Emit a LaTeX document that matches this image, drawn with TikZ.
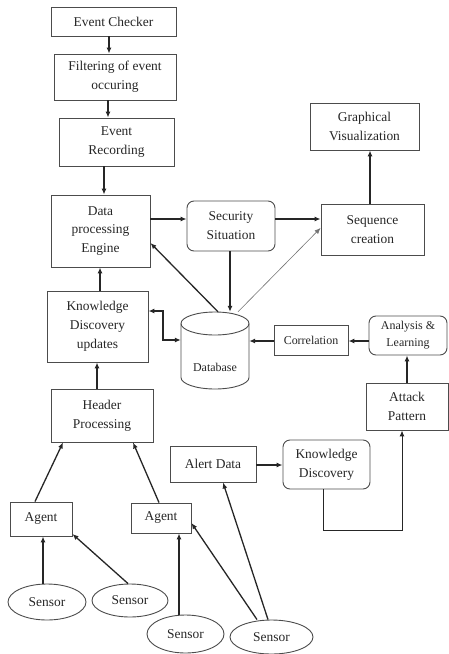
\documentclass[tikz,border=0pt]{standalone}
\usepackage{fontspec}
\setmainfont{Liberation Serif}
\usetikzlibrary{arrows.meta,shapes.geometric}
\begin{document}
\begin{tikzpicture}[x=1bp,y=-1bp,
 box/.style={draw=black!70, line width=0.9bp, align=center, inner sep=0pt, text=black!85, font=\fontsize{13.5}{19}\selectfont},
 rbox/.style={box, rounded corners=7bp},
 sm/.style={font=\fontsize{12}{17}\selectfont},
 sens/.style={box, ellipse},
 arr/.style={line width=1.3bp, black!85, -{Latex[length=6bp,width=5bp]}},
 arrb/.style={line width=1.3bp, black!85, {Latex[length=6bp,width=5bp]}-{Latex[length=6bp,width=5bp]}},
 tarr/.style={line width=1bp, black!85, -{Latex[length=6bp,width=5bp]}},
 thinarr/.style={line width=0.6bp, black!55, -{Latex[length=6bp,width=5bp]}},
 cyl/.style={draw=black!70, line width=0.9bp},
]
\useasboundingbox (0,0) rectangle (449,654);
% boxes
\node[box, minimum width=125bp, minimum height=29bp] (ec) at (113.5,21.5) {Event Checker};
\node[box, minimum width=122bp, minimum height=46bp] (filt) at (115,77) {Filtering of event\\occuring};
\node[box, minimum width=115bp, minimum height=48bp] (rec) at (116.5,142) {Event\\Recording};
\node[box, minimum width=99bp, minimum height=72bp] (dpe) at (100.5,231) {Data\\processing\\Engine};
\node[rbox, minimum width=88bp, minimum height=50bp] (ss) at (231,226) {Security\\Situation};
\node[box, minimum width=103bp, minimum height=51bp] (seq) at (372.5,229.5) {Sequence\\creation};
\node[box, minimum width=109bp, minimum height=47bp] (gv) at (364.5,126.5) {Graphical\\Visualization};
\node[box, minimum width=101bp, minimum height=71bp] (kdu) at (97.5,326.5) {Knowledge\\Discovery\\updates};
% database cylinder
\node[minimum width=68bp, minimum height=77bp, inner sep=0pt] (db) at (215,350.5) {};
\draw[cyl] (215,323.5) ellipse [x radius=34, y radius=11.5];
\draw[cyl] (181,323.5) -- (181,377.5) arc [start angle=180, end angle=0, x radius=34, y radius=11.5] -- (249,323.5);
\node[box, draw=none, sm] (dbt) at (215,367) {Database};
\node[box, sm, minimum width=74bp, minimum height=30bp] (corr) at (311,340) {Correlation};
\node[rbox, sm, minimum width=78bp, minimum height=39bp] (al) at (408,335.5) {Analysis \&\\Learning};
\node[box, minimum width=82bp, minimum height=47bp] (ap) at (407,406.5) {Attack\\Pattern};
\node[box, minimum width=102bp, minimum height=53bp] (hp) at (102,415.5) {Header\\Processing};
\node[box, minimum width=86bp, minimum height=36bp] (ad) at (213,464) {Alert Data};
\node[rbox, minimum width=87bp, minimum height=49bp] (kd) at (326.5,464.5) {Knowledge\\Discovery};
\node[box, minimum width=62bp, minimum height=34bp] (ag1) at (41,519) {Agent};
\node[box, minimum width=60bp, minimum height=30bp] (ag2) at (161,518) {Agent};
\node[sens, minimum width=78bp, minimum height=36bp] (s1) at (47,602) {Sensor};
\node[sens, minimum width=76bp, minimum height=33bp] (s2) at (130,600.5) {Sensor};
\node[sens, minimum width=77bp, minimum height=38bp] (s3) at (185.5,634) {Sensor};
\node[sens, minimum width=83bp, minimum height=34bp] (s4) at (271.5,637) {Sensor};
% connectors
\draw[arr] (ec.south -| 109,0) -- (filt.north -| 109,0);
\draw[arr] (filt.south -| 108,0) -- (rec.north -| 108,0);
\draw[arr] (rec.south -| 104,0) -- (dpe.north -| 104,0);
\draw[arr] (dpe.east |- 0,219) -- (ss.west |- 0,219);
\draw[arr] (ss.east |- 0,219) -- (seq.west |- 0,219);
\draw[arr] (seq.north -| 370,0) -- (gv.south -| 370,0);
\draw[arr] (ss.south -| 230,0) -- (db.north -| 230,0);
\draw[arr] (db.north -| 218,0) -- (dpe.east |- 0,243);
\draw[thinarr] (db.north -| 238,0) -- (seq.west |- 0,228);
\draw[arrb] (kdu.east |- 0,311) -- (163,311) -- (163,340) -- (db.west |- 0,340);
\draw[arr] (corr.west |- 0,341) -- (db.east |- 0,341);
\draw[arr] (al.west |- 0,341) -- (corr.east |- 0,341);
\draw[arr] (ap.north -| 407,0) -- (al.south -| 407,0);
\draw[arr] (kdu.north -| 100,0) -- (dpe.south -| 100,0);
\draw[arr] (hp.north -| 97,0) -- (kdu.south -| 97,0);
\draw[arr] (ag1.north -| 35,0) -- (hp.south -| 63,0);
\draw[arr] (ag2.north -| 159,0) -- (hp.south -| 133,0);
\draw[arr] (ad.east |- 0,465) -- (kd.west |- 0,465);
\draw[tarr] (kd.south -| 323,0) -- (323,530) -- (402,530) -- (ap.south -| 402,0);
\draw[arr] (s1.north -| 43,0) -- (ag1.south -| 43,0);
\draw[arr] (s2.north -| 128,0) -- (ag1.east |- 0,534);
\draw[arr] (s3.north -| 179,0) -- (ag2.south -| 179,0);
\draw[arr] (s4.north -| 257,0) -- (ag2.east |- 0,523);
\draw[arr] (s4.north -| 268,0) -- (ad.south -| 223,0);
\end{tikzpicture}
\end{document}
